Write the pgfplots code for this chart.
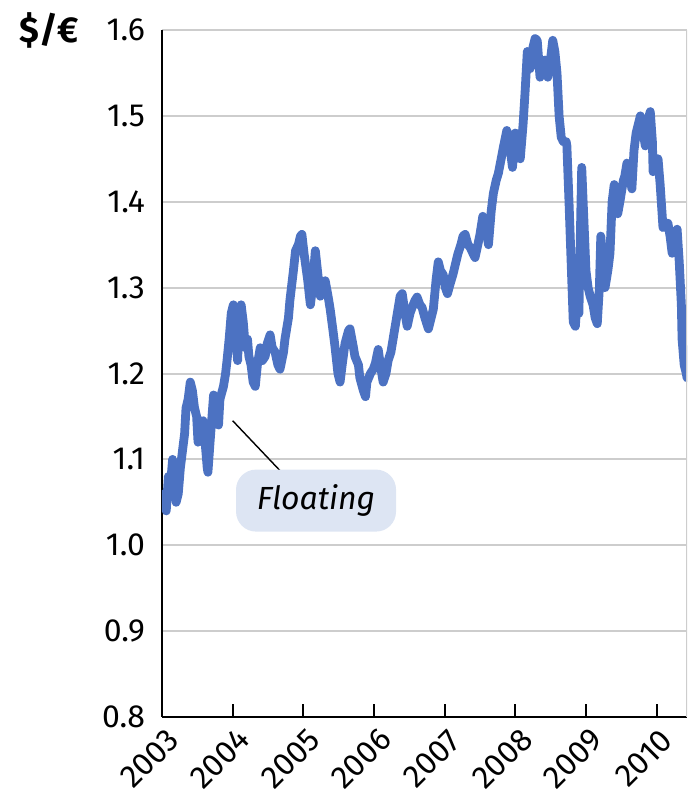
\documentclass[border=0pt]{standalone}
\usepackage{pgfplots}
\pgfplotsset{compat=1.18}
\usepackage{fontspec}
\setmainfont{Fira Sans}
\definecolor{lineblue}{RGB}{76,114,194}
\definecolor{boxblue}{RGB}{221,229,243}
\definecolor{gridgray}{RGB}{205,205,205}
\begin{document}
\begin{tikzpicture}
\begin{axis}[
  scale only axis,
  width=262.5pt, height=343.5pt,
  xmin=2003, xmax=2010.43,
  ymin=0.8, ymax=1.6,
  axis x line*=bottom, axis y line*=left,
  axis line style={line width=1pt, black},
  xtick={2003,2004,2005,2006,2007,2008,2009,2010},
  xticklabels={2003,2004,2005,2006,2007,2008,2009,2010},
  ytick={0.8,0.9,1.0,1.1,1.2,1.3,1.4,1.5,1.6},
  yticklabel={\pgfmathprintnumber[fixed,fixed zerofill,precision=1]{\tick}},
  /pgf/number format/assume math mode=true,
  tick align=inside,
  major tick length=6.5pt,
  x tick style={line width=1pt, black},
  y tick style={draw=none},
  ymajorgrids,
  major grid style={line width=1pt, gridgray},
  tick label style={font=\fontsize{16}{18}\selectfont},
  xticklabel style={anchor=center, xshift=-6.3pt, yshift=-20.8pt, rotate=45},
  yticklabel style={xshift=-5pt},
  clip=true,
]
\addplot[lineblue, line width=4.4pt, line join=round, line cap=round] table {
x y
2003.00 1.045
2003.03 1.06
2003.06 1.04
2003.09 1.08
2003.12 1.07
2003.15 1.10
2003.17 1.08
2003.20 1.05
2003.23 1.06
2003.26 1.09
2003.29 1.11
2003.32 1.13
2003.34 1.16
2003.37 1.17
2003.40 1.19
2003.43 1.18
2003.46 1.16
2003.49 1.15
2003.51 1.12
2003.54 1.14
2003.58 1.145
2003.61 1.12
2003.64 1.09
2003.65 1.085
2003.68 1.12
2003.73 1.175
2003.75 1.16
2003.80 1.14
2003.82 1.17
2003.87 1.185
2003.90 1.20
2003.92 1.215
2003.95 1.24
2003.98 1.27
2004.01 1.28
2004.04 1.25
2004.07 1.215
2004.09 1.26
2004.12 1.28
2004.15 1.26
2004.18 1.23
2004.21 1.24
2004.23 1.22
2004.26 1.21
2004.29 1.19
2004.32 1.185
2004.35 1.21
2004.39 1.23
2004.42 1.215
2004.46 1.22
2004.49 1.235
2004.53 1.245
2004.56 1.23
2004.60 1.225
2004.64 1.21
2004.67 1.205
2004.72 1.225
2004.74 1.24
2004.79 1.265
2004.81 1.285
2004.86 1.32
2004.89 1.343
2004.93 1.35
2004.96 1.36
2004.98 1.362
2005.01 1.34
2005.03 1.328
2005.06 1.31
2005.10 1.28
2005.13 1.30
2005.17 1.343
2005.20 1.32
2005.24 1.29
2005.28 1.30
2005.31 1.308
2005.35 1.29
2005.38 1.275
2005.42 1.25
2005.45 1.23
2005.49 1.20
2005.52 1.19
2005.55 1.21
2005.59 1.235
2005.64 1.25
2005.66 1.252
2005.71 1.23
2005.73 1.22
2005.78 1.21
2005.80 1.195
2005.85 1.18
2005.88 1.173
2005.90 1.19
2005.95 1.20
2005.99 1.205
2006.02 1.212
2006.06 1.228
2006.09 1.21
2006.13 1.19
2006.17 1.20
2006.20 1.215
2006.24 1.225
2006.27 1.24
2006.31 1.26
2006.34 1.275
2006.37 1.29
2006.40 1.293
2006.44 1.27
2006.47 1.255
2006.51 1.27
2006.54 1.277
2006.58 1.285
2006.61 1.289
2006.65 1.28
2006.68 1.277
2006.72 1.265
2006.77 1.252
2006.81 1.265
2006.84 1.275
2006.88 1.31
2006.91 1.33
2006.94 1.32
2006.98 1.315
2007.01 1.30
2007.04 1.293
2007.08 1.305
2007.12 1.316
2007.16 1.33
2007.19 1.34
2007.23 1.35
2007.26 1.36
2007.29 1.362
2007.33 1.35
2007.36 1.347
2007.40 1.34
2007.43 1.335
2007.47 1.35
2007.50 1.362
2007.54 1.383
2007.59 1.37
2007.62 1.35
2007.66 1.39
2007.69 1.41
2007.73 1.425
2007.76 1.433
2007.80 1.45
2007.83 1.463
2007.86 1.475
2007.88 1.483
2007.93 1.46
2007.96 1.44
2008.00 1.48
2008.03 1.47
2008.07 1.45
2008.11 1.49
2008.14 1.53
2008.17 1.575
2008.21 1.555
2008.25 1.58
2008.28 1.59
2008.31 1.588
2008.35 1.545
2008.39 1.555
2008.42 1.565
2008.46 1.545
2008.49 1.56
2008.53 1.588
2008.56 1.575
2008.59 1.55
2008.62 1.50
2008.65 1.475
2008.68 1.47
2008.72 1.47
2008.73 1.465
2008.76 1.40
2008.79 1.33
2008.82 1.26
2008.85 1.255
2008.87 1.28
2008.90 1.27
2008.93 1.40
2008.94 1.44
2008.97 1.38
2009.00 1.32
2009.03 1.30
2009.06 1.29
2009.10 1.28
2009.13 1.265
2009.16 1.258
2009.19 1.30
2009.21 1.36
2009.24 1.33
2009.27 1.30
2009.31 1.32
2009.34 1.34
2009.37 1.40
2009.40 1.42
2009.43 1.405
2009.45 1.386
2009.48 1.40
2009.53 1.425
2009.55 1.43
2009.58 1.445
2009.62 1.43
2009.65 1.415
2009.68 1.46
2009.71 1.48
2009.74 1.49
2009.77 1.50
2009.81 1.48
2009.84 1.465
2009.86 1.49
2009.91 1.505
2009.94 1.47
2009.95 1.435
2009.99 1.45
2010.02 1.45
2010.05 1.42
2010.09 1.37
2010.13 1.375
2010.16 1.375
2010.19 1.36
2010.22 1.34
2010.25 1.355
2010.29 1.368
2010.32 1.33
2010.35 1.28
2010.36 1.24
2010.39 1.21
2010.42 1.20
2010.43 1.195
};
\draw[gridgray, line width=1pt] (rel axis cs:1,0) -- (rel axis cs:1,1);
\draw[black, line width=0.7pt] (axis cs:2004.00,1.145) -- (axis cs:2004.75,1.08);
\node[fill=boxblue, rounded corners=10pt, minimum width=80pt, minimum height=31pt,
  font=\itshape\fontsize{16}{18}\selectfont] at (axis cs:2005.18,1.052) {Floating};
\end{axis}
\node[font=\bfseries\fontsize{18}{20}\selectfont] at (-56.5pt,343.5pt) {\$/€};
\pgfresetboundingbox
\path (-81pt,-37.5pt) rectangle (262.5pt,358.5pt);
\end{tikzpicture}
\end{document}
